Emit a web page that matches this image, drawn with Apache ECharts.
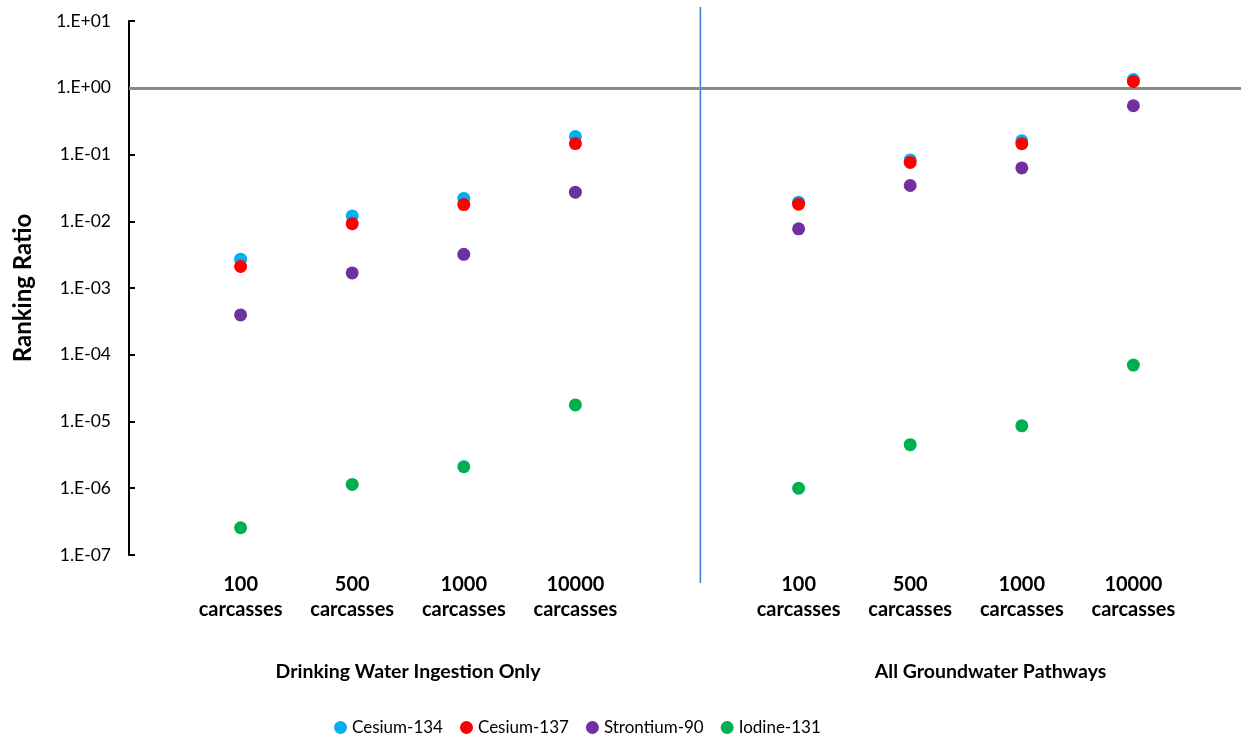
<!DOCTYPE html>
<html>
<head>
<meta charset="utf-8">
<script src="https://cdn.jsdelivr.net/npm/echarts@6/dist/echarts.min.js"></script>
<style>
  html, body { margin: 0; padding: 0; background: #ffffff; }
  #chart { width: 1241px; height: 738px; }
</style>
</head>
<body>
<div id="chart"></div>
<script>
// ---- data ----
const sizes = ['100', '500', '1000', '10000'];
const groups = ['Drinking Water Ingestion Only', 'All Groundwater Pathways'];
// x slot of each point on the shared axis: group 1 -> 1..4, group 2 -> 6..9
const slotsGroup1 = [1, 2, 3, 4];
const slotsGroup2 = [6, 7, 8, 9];
const seriesNames = ['Cesium-134', 'Cesium-137', 'Strontium-90', 'Iodine-131'];
const colors = ['#00B0F0', '#FF0000', '#7030A0', '#00B050'];

// values: first 4 = Drinking Water Ingestion Only, last 4 = All Groundwater Pathways
const cs134 = [2.7e-3, 1.2e-2, 2.2e-2, 1.86e-1, 1.93e-2, 8.3e-2, 1.6e-1, 1.33];
const cs137 = [2.1e-3, 9.2e-3, 1.78e-2, 1.46e-1, 1.8e-2, 7.6e-2, 1.45e-1, 1.24];
const sr90  = [3.95e-4, 1.68e-3, 3.2e-3, 2.73e-2, 7.7e-3, 3.43e-2, 6.3e-2, 5.37e-1];
const i131  = [2.56e-7, 1.14e-6, 2.1e-6, 1.77e-5, 1.0e-6, 4.5e-6, 8.6e-6, 7.0e-5];
const referenceLine = 1;   // ranking ratio = 1
const dividerSlot = 5.12;  // vertical separator between the two groups
const groupCenters = [2.5, 7.72];

const yMin = 1e-7, yMax = 10;

// ---- build ----
const allSlots = slotsGroup1.concat(slotsGroup2);
const tickText = {};
allSlots.forEach((s, i) => { tickText[s] = sizes[i % 4] + '\ncarcasses'; });

function pts(arr) { return arr.map((v, i) => [allSlots[i], v]); }
const seriesValues = [cs134, cs137, sr90, i131];

const FONT = 'Lato, "Open Sans", sans-serif';

const series = seriesValues.map((vals, k) => ({
  name: seriesNames[k],
  type: 'scatter',
  data: pts(vals),
  symbol: 'circle',
  symbolSize: 13,
  itemStyle: { color: colors[k], opacity: 1 },
  z: 3 + k
}));
series[0].markLine = {
  silent: true,
  symbol: ['none', 'none'],
  label: { show: false },
  lineStyle: { color: '#8A8A8A', width: 3, type: 'solid' },
  data: [{ yAxis: referenceLine }],
  z: 1
};

const chart = echarts.init(document.getElementById('chart'), null, { renderer: 'canvas' });
chart.setOption({
  animation: false,
  backgroundColor: '#ffffff',
  grid: { left: 129, width: 1116, top: 21, bottom: 183, containLabel: false, outerBoundsMode: 'none' },
  xAxis: {
    type: 'value',
    min: 0, max: 10, interval: 1,
    axisLine: { show: false },
    axisTick: { show: false },
    splitLine: { show: false },
    axisLabel: {
      margin: 17,
      fontFamily: FONT, fontSize: 20, fontWeight: 'bold', color: '#000',
      lineHeight: 25,
      showMinLabel: false, showMaxLabel: false,
      formatter: v => tickText[Math.round(v)] || ''
    }
  },
  yAxis: {
    type: 'log',
    logBase: 10,
    min: yMin, max: yMax,
    interval: 1,
    name: 'Ranking Ratio',
    nameLocation: 'middle',
    nameGap: 94,
    nameRotate: 90,
    nameTextStyle: { fontFamily: FONT, fontSize: 24, fontWeight: 'bold', color: '#000' },
    axisLine: { show: true, lineStyle: { color: '#000', width: 2 } },
    axisTick: { show: true, inside: true, length: 6, lineStyle: { color: '#000', width: 2 } },
    minorTick: { show: false },
    splitLine: { show: false },
    axisLabel: {
      margin: 18,
      fontFamily: FONT, fontSize: 17.5, color: '#000',
      formatter: v => {
        const e = Math.round(Math.log10(v));
        const s = e < 0 ? '-' : '+';
        const a = Math.abs(e);
        return '1.E' + s + (a < 10 ? '0' + a : '' + a);
      }
    }
  },
  legend: {
    top: 719,
    left: 334,
    icon: 'circle',
    itemWidth: 13, itemHeight: 13,
    itemGap: 17,
    padding: 0,
    textStyle: { fontFamily: FONT, fontSize: 17, color: '#000' },
    data: seriesNames
  },
  series: series
});

// decorations positioned through the axis scale
const dx = chart.convertToPixel({ xAxisIndex: 0 }, dividerSlot);
const g = [{
  type: 'line',
  shape: { x1: dx, y1: 7, x2: dx, y2: 583 },
  style: { stroke: '#3D78D8', lineWidth: 1.5 },
  z: 0
}];
groups.forEach((name, i) => {
  const cx = chart.convertToPixel({ xAxisIndex: 0 }, groupCenters[i]);
  g.push({
    type: 'text',
    x: cx, y: 672,
    style: {
      text: name, fontFamily: FONT, fontSize: 19.5, fontWeight: 'bold',
      fill: '#000', align: 'center', verticalAlign: 'middle'
    }
  });
});
chart.setOption({ graphic: g });
</script>
</body>
</html>
